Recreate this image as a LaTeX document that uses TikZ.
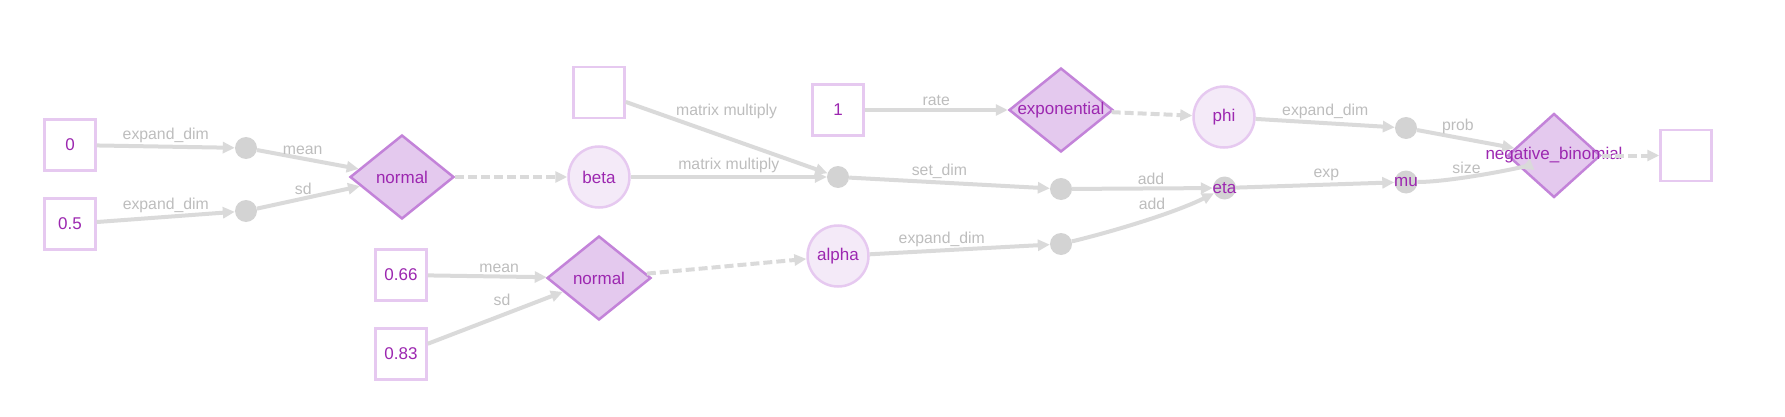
\documentclass[tikz,border=0pt]{standalone}
\usepackage{fontspec}
\setmainfont{Liberation Sans}
\usepackage{tikz}
\usetikzlibrary{arrows.meta,positioning,shapes.geometric}

\definecolor{txtpurple}{HTML}{9C27B0}
\definecolor{dmdfill}{HTML}{E4C9EE}
\definecolor{dmdborder}{HTML}{C383D9}
\definecolor{cirfill}{HTML}{F4EAF8}
\definecolor{cirborder}{HTML}{E6C9F0}
\definecolor{edgegray}{HTML}{DADADA}
\definecolor{dotgray}{HTML}{D3D3D3}
\definecolor{labgray}{HTML}{BDBDBD}

\newcommand{\nodefont}{\fontsize{17}{20}\selectfont}
\newcommand{\labfont}{\fontsize{15.8}{18}\selectfont}
\newcommand{\overtext}[1]{\makebox[0pt]{#1}}

\begin{document}
\begin{tikzpicture}[x=1pt,y=-1pt,>={Triangle[length=12pt,width=11pt]},
  valbox/.style={draw=cirborder,line width=2.5pt,fill=white,minimum size=51pt,inner sep=0pt,text=txtpurple,font=\nodefont},
  distnode/.style={diamond,draw=dmdborder,fill=dmdfill,line width=2.5pt,minimum width=104pt,minimum height=84pt,aspect=1.23,inner sep=0pt,text=txtpurple,font=\nodefont},
  varnode/.style={circle,draw=cirborder,fill=cirfill,line width=2.5pt,minimum size=61pt,inner sep=0pt,text=txtpurple,font=\nodefont},
  opdot/.style={circle,fill=dotgray,minimum size=22pt,inner sep=0pt,text=txtpurple,font=\nodefont},
  elabel/.style={text=labgray,font=\labfont,inner sep=2pt},
  edge/.style={draw=edgegray,line width=4pt,->},
  dedge/.style={edge,dash pattern=on 9pt off 4pt}]
\useasboundingbox (0,0) rectangle (1785,417);

% data and operations
\node (zero) [valbox] at (70,145) {0};
\node (half) [valbox] at (70,224) {0.5};
\node (d1) [opdot] at (246,148) {};
\node (d2) [opdot] at (246,211) {};
\node (normA) [distnode] at (402,177) {\overtext{normal}};
\node (beta) [varnode] at (599,177) {beta};
\node (xmat) [valbox] at (599,92.5) {};
\node (mm) [opdot] at (838,177) {};
\node (one) [valbox] at (838,110) {1};
\node (expo) [distnode] at (1061,110) {\overtext{exponential}};
\node (phi) [varnode] at (1224,117) {phi};
\node (pd) [opdot] at (1406,128) {};
\node (negbin) [distnode,minimum width=93pt] at (1554,155.5) {\overtext{negative\_binomial}};
\node (outbox) [valbox] at (1686,155.5) {};
\node (sd5) [opdot] at (1061,189) {};
\node (eta) [opdot,minimum size=23pt] at (1224.5,188) {\overtext{eta}};
\node (mu) [opdot,minimum size=23pt] at (1406,182) {\overtext{mu}};
\node (ad) [opdot] at (1061,244) {};
\node (alpha) [varnode] at (838,256) {alpha};
\node (normB) [distnode] at (599,278) {\overtext{normal}};
\node (six) [valbox] at (401,275) {0.66};
\node (eight) [valbox] at (401,354) {0.83};

% edges
\draw[edge] (zero) -- node[elabel,above] {expand\_dim} (d1);
\draw[edge] (half) -- node[elabel,above] {expand\_dim} (d2);
\draw[edge] (d1) -- node[elabel,above,pos=0.45] {mean} (normA);
\draw[edge] (d2) -- node[elabel,above,pos=0.45] {sd} (normA);
\draw[dedge] (normA) -- (beta);
\draw[edge] (xmat) -- node[elabel,above=15pt] {matrix multiply} (mm);
\draw[edge] (beta) -- node[elabel,above] {matrix multiply} (mm);
\draw[edge] (one) -- node[elabel,above] {rate} (expo);
\draw[dedge] (expo) -- (phi);
\draw[edge] (phi) -- node[elabel,above] {expand\_dim} (pd);
\draw[edge] (pd) -- node[elabel,above,pos=0.42] {prob} (negbin);
\draw[edge] (mm) -- node[elabel,above,pos=0.45] {set\_dim} (sd5);
\draw[edge] (sd5) -- node[elabel,above,pos=0.56] {add} (eta);
\draw[edge] (ad) .. controls +(50,-12) and +(-50,25) .. node[elabel,above=4pt,pos=0.56] {add} (eta);
\draw[edge] (eta) -- node[elabel,above,pos=0.57] {exp} (mu);
\draw[edge] (mu) .. controls +(45,0) and +(-30,12) .. node[elabel,above,pos=0.38] {size} (negbin);
\draw[dedge] (negbin) -- (outbox);
\draw[edge] (six) -- node[elabel,above,pos=0.6] {mean} (normB);
\draw[edge] (eight) -- node[elabel,above=6pt,pos=0.55] {sd} (normB);
\draw[dedge] (normB) -- (alpha);
\draw[edge] (alpha) -- node[elabel,above,pos=0.4] {expand\_dim} (ad);
\end{tikzpicture}
\end{document}
